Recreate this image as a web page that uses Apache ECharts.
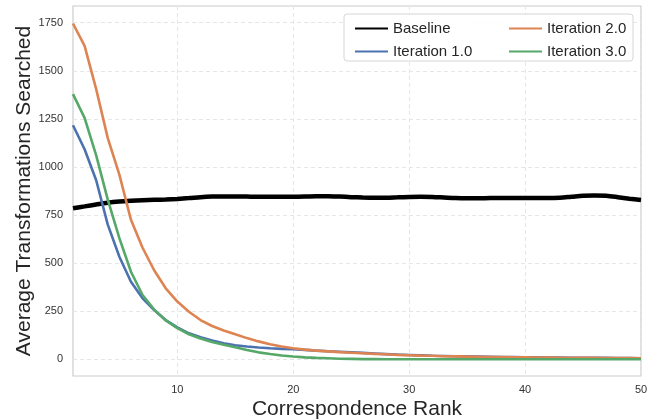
<!DOCTYPE html>
<html>
<head>
<meta charset="utf-8">
<script src="https://cdn.jsdelivr.net/npm/echarts@6/dist/echarts.min.js"></script>
<style>
html,body{margin:0;padding:0;background:#fff;}
#chart{width:656px;height:419px;}
</style>
</head>
<body>
<div id="chart"></div>
<script>
var ranks = [1,2,3,4,5,6,7,8,9,10,11,12,13,14,15,16,17,18,19,20,21,22,23,24,25,26,27,28,29,30,31,32,33,34,35,36,37,38,39,40,41,42,43,44,45,46,47,48,49,50];
var baseline = [785,795,805,814,820,824,827,829,831,834,838,843,846,847,847,846,845,845,845,845,846,848,848,846,843,841,840,840,842,844,845,844,841,838,837,837,838,838,838,838,838,838,840,845,850,852,850,843,835,828];
var iter1 = [1217,1092,931,700,533,403,317,256,204,166,135,114,97,83,73,66,61,57,54,52,49,45,42,39,36,33,30,27,24,22,20,18,17,16,15,14,13,12,11,10,10,9,9,8,8,7,7,6,6,5];
var iter2 = [1746,1630,1405,1150,960,725,580,463,369,300,247,204,173,150,130,110,93,78,66,57,50,45,41,37,34,31,28,26,23,21,19,18,16,15,14,13,12,11,10,10,9,9,8,8,7,7,6,6,6,5];
var iter3 = [1379,1255,1060,830,630,455,334,258,202,162,130,108,90,76,62,48,36,27,20,14,10,7,5,3,2,1,1,0,0,0,0,0,0,0,0,0,0,0,0,0,0,0,0,0,0,0,0,0,0,0];
var xTicks = [10,20,30,40,50];
var yTicks = [0,250,500,750,1000,1250,1500,1750];
var seriesNames = ['Baseline','Iteration 1.0','Iteration 2.0','Iteration 3.0'];

function pairs(arr){ return ranks.map(function(r,i){ return [r, arr[i]]; }); }

var FONT = '"Liberation Sans", Arial, sans-serif';
var chart = echarts.init(document.getElementById('chart'), null, {renderer:'canvas'});
var gridLine = {show:true, lineStyle:{color:'#e6e6e6', width:1, type:[4,3]}};
var plain = function(v){ return String(v); };

chart.setOption({
  backgroundColor:'#ffffff',
  animation:false,
  grid:{left:73, right:15, top:6, bottom:43, containLabel:false, outerBoundsMode:'none', show:true, borderColor:'#cccccc', borderWidth:1.2, backgroundColor:'transparent'},
  xAxis:{
    type:'value', min:1, max:50,
    name:'Correspondence Rank', nameLocation:'middle', nameGap:23, nameMoveOverlap:false,
    nameTextStyle:{fontFamily:FONT, fontSize:21, color:'#262626'},
    axisLine:{show:false},
    axisTick:{show:false, customValues:xTicks},
    axisLabel:{customValues:xTicks, formatter:plain, fontFamily:FONT, fontSize:11, color:'#333333', margin:8},
    splitLine:gridLine
  },
  yAxis:{
    type:'value', min:-87, max:1837,
    name:'Average Transformations Searched', nameLocation:'middle', nameGap:38, nameRotate:90, nameMoveOverlap:false,
    nameTextStyle:{fontFamily:FONT, fontSize:21, color:'#262626'},
    axisLine:{show:false},
    axisTick:{show:false, customValues:yTicks},
    axisLabel:{customValues:yTicks, formatter:plain, fontFamily:FONT, fontSize:11, color:'#333333', margin:10},
    splitLine:gridLine
  },
  graphic:[{
    type:'rect', z:50,
    shape:{x:344, y:14, width:289, height:47, r:3},
    style:{fill:'rgba(255,255,255,0.85)', stroke:'#d6d6d6', lineWidth:1}
  }],
  legend:[
    {data:['Baseline','Iteration 1.0'], orient:'vertical', left:349, top:16, itemWidth:33, itemHeight:14, itemGap:8, z:60,
     itemStyle:{opacity:0},
     textStyle:{fontFamily:FONT, fontSize:15, color:'#262626', lineHeight:14}},
    {data:['Iteration 2.0','Iteration 3.0'], orient:'vertical', left:503, top:16, itemWidth:33, itemHeight:14, itemGap:8, z:60,
     itemStyle:{opacity:0},
     textStyle:{fontFamily:FONT, fontSize:15, color:'#262626', lineHeight:14}}
  ],
  series:[
    {name:seriesNames[0], type:'line', data:pairs(baseline), symbol:'none', smooth:0.3, lineStyle:{color:'#000000', width:4.5}, itemStyle:{color:'#000000'}},
    {name:seriesNames[1], type:'line', data:pairs(iter1), symbol:'none', lineStyle:{color:'#4C72B0', width:2.6}, itemStyle:{color:'#4C72B0'}},
    {name:seriesNames[2], type:'line', data:pairs(iter2), symbol:'none', lineStyle:{color:'#DD8452', width:2.6}, itemStyle:{color:'#DD8452'}},
    {name:seriesNames[3], type:'line', data:pairs(iter3), symbol:'none', lineStyle:{color:'#55A868', width:2.6}, itemStyle:{color:'#55A868'}}
  ]
});
</script>
</body>
</html>
